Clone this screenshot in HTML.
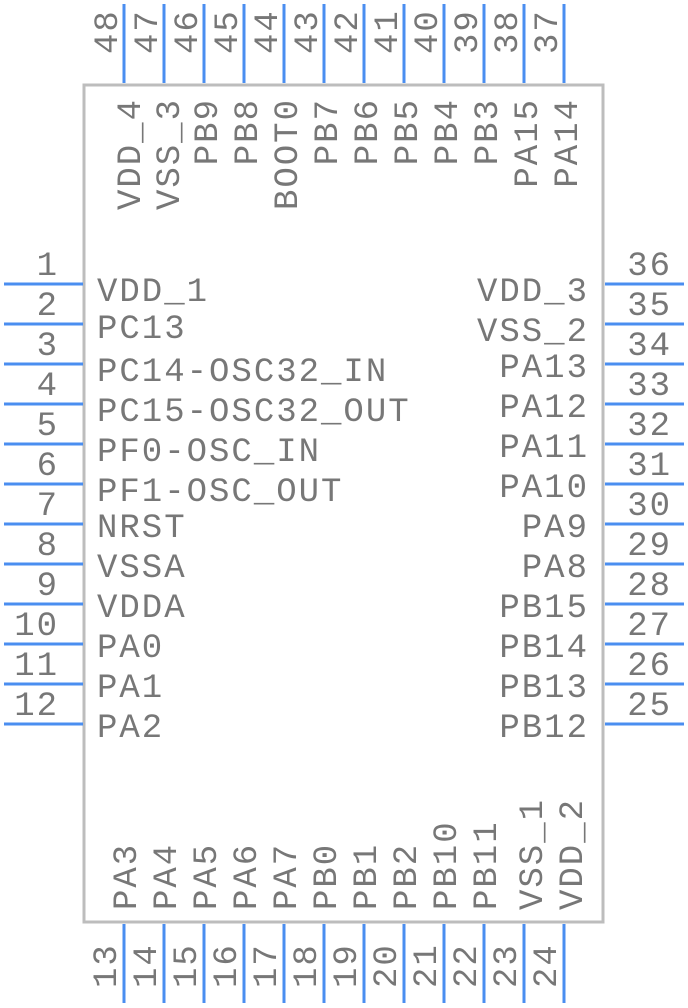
<!DOCTYPE html>
<html><head><meta charset="utf-8"><style>
html,body{margin:0;padding:0;background:#fff;}
svg{display:block}
text{font-family:"Liberation Mono",monospace;font-size:34px;fill:#777;letter-spacing:2px}
</style></head><body>
<svg width="688" height="1008" viewBox="0 0 688 1008" xmlns="http://www.w3.org/2000/svg">
<rect x="84" y="85" width="519" height="837" fill="none" stroke="#bdbdbd" stroke-width="3"/>
<g stroke="#4a8ef0" stroke-width="3">
<line x1="4" y1="284" x2="83" y2="284"/><line x1="4" y1="324" x2="83" y2="324"/>
<line x1="4" y1="364" x2="83" y2="364"/><line x1="4" y1="404" x2="83" y2="404"/>
<line x1="4" y1="444" x2="83" y2="444"/><line x1="4" y1="484" x2="83" y2="484"/>
<line x1="4" y1="524" x2="83" y2="524"/><line x1="4" y1="564" x2="83" y2="564"/>
<line x1="4" y1="604" x2="83" y2="604"/><line x1="4" y1="644" x2="83" y2="644"/>
<line x1="4" y1="684" x2="83" y2="684"/><line x1="4" y1="724" x2="83" y2="724"/>
<line x1="605" y1="284" x2="684" y2="284"/><line x1="605" y1="324" x2="684" y2="324"/>
<line x1="605" y1="364" x2="684" y2="364"/><line x1="605" y1="404" x2="684" y2="404"/>
<line x1="605" y1="444" x2="684" y2="444"/><line x1="605" y1="484" x2="684" y2="484"/>
<line x1="605" y1="524" x2="684" y2="524"/><line x1="605" y1="564" x2="684" y2="564"/>
<line x1="605" y1="604" x2="684" y2="604"/><line x1="605" y1="644" x2="684" y2="644"/>
<line x1="605" y1="684" x2="684" y2="684"/><line x1="605" y1="724" x2="684" y2="724"/>
<line x1="124" y1="4" x2="124" y2="83"/><line x1="164" y1="4" x2="164" y2="83"/>
<line x1="204" y1="4" x2="204" y2="83"/><line x1="244" y1="4" x2="244" y2="83"/>
<line x1="284" y1="4" x2="284" y2="83"/><line x1="324" y1="4" x2="324" y2="83"/>
<line x1="364" y1="4" x2="364" y2="83"/><line x1="404" y1="4" x2="404" y2="83"/>
<line x1="444" y1="4" x2="444" y2="83"/><line x1="484" y1="4" x2="484" y2="83"/>
<line x1="524" y1="4" x2="524" y2="83"/><line x1="564" y1="4" x2="564" y2="83"/>
<line x1="124" y1="924" x2="124" y2="1003"/><line x1="164" y1="924" x2="164" y2="1003"/>
<line x1="204" y1="924" x2="204" y2="1003"/><line x1="244" y1="924" x2="244" y2="1003"/>
<line x1="284" y1="924" x2="284" y2="1003"/><line x1="324" y1="924" x2="324" y2="1003"/>
<line x1="364" y1="924" x2="364" y2="1003"/><line x1="404" y1="924" x2="404" y2="1003"/>
<line x1="444" y1="924" x2="444" y2="1003"/><line x1="484" y1="924" x2="484" y2="1003"/>
<line x1="524" y1="924" x2="524" y2="1003"/><line x1="564" y1="924" x2="564" y2="1003"/>
</g>
<g text-anchor="end">
<text x="59" y="275">1</text><text x="59" y="315">2</text><text x="59" y="355">3</text>
<text x="59" y="395">4</text><text x="59" y="435">5</text><text x="59" y="475">6</text>
<text x="59" y="515">7</text><text x="59" y="555">8</text><text x="59" y="595">9</text>
<text x="59" y="635">10</text><text x="59" y="675">11</text><text x="59" y="715">12</text>
</g>
<g>
<text x="97" y="301">VDD_1</text><text x="97" y="338">PC13</text>
<text x="97" y="381">PC14-OSC32_IN</text><text x="97" y="421">PC15-OSC32_OUT</text>
<text x="97" y="461">PF0-OSC_IN</text><text x="97" y="501">PF1-OSC_OUT</text>
<text x="97" y="537">NRST</text><text x="97" y="577">VSSA</text>
<text x="97" y="617">VDDA</text><text x="97" y="657">PA0</text>
<text x="97" y="697">PA1</text><text x="97" y="737">PA2</text>
</g>
<g text-anchor="end">
<text x="672" y="275">36</text><text x="672" y="315">35</text><text x="672" y="355">34</text>
<text x="672" y="395">33</text><text x="672" y="435">32</text><text x="672" y="475">31</text>
<text x="672" y="515">30</text><text x="672" y="555">29</text><text x="672" y="595">28</text>
<text x="672" y="635">27</text><text x="672" y="675">26</text><text x="672" y="715">25</text>
</g>
<g text-anchor="end">
<text x="589" y="301">VDD_3</text><text x="589" y="341">VSS_2</text>
<text x="589" y="377">PA13</text><text x="589" y="417">PA12</text>
<text x="589" y="457">PA11</text><text x="589" y="497">PA10</text>
<text x="589" y="537">PA9</text><text x="589" y="577">PA8</text>
<text x="589" y="617">PB15</text><text x="589" y="657">PB14</text>
<text x="589" y="697">PB13</text><text x="589" y="737">PB12</text>
</g>
<g>
<text transform="translate(117,54) rotate(-90)">48</text>
<text transform="translate(157,54) rotate(-90)">47</text>
<text transform="translate(197,54) rotate(-90)">46</text>
<text transform="translate(237,54) rotate(-90)">45</text>
<text transform="translate(277,54) rotate(-90)">44</text>
<text transform="translate(317,54) rotate(-90)">43</text>
<text transform="translate(357,54) rotate(-90)">42</text>
<text transform="translate(397,54) rotate(-90)">41</text>
<text transform="translate(437,54) rotate(-90)">40</text>
<text transform="translate(477,54) rotate(-90)">39</text>
<text transform="translate(517,54) rotate(-90)">38</text>
<text transform="translate(557,54) rotate(-90)">37</text>
</g>
<g text-anchor="end">
<text transform="translate(140,98) rotate(-90)">VDD_4</text>
<text transform="translate(179,98) rotate(-90)">VSS_3</text>
<text transform="translate(217,98) rotate(-90)">PB9</text>
<text transform="translate(257,98) rotate(-90)">PB8</text>
<text transform="translate(297,98) rotate(-90)">BOOT0</text>
<text transform="translate(337,98) rotate(-90)">PB7</text>
<text transform="translate(377,98) rotate(-90)">PB6</text>
<text transform="translate(417,98) rotate(-90)">PB5</text>
<text transform="translate(457,98) rotate(-90)">PB4</text>
<text transform="translate(497,98) rotate(-90)">PB3</text>
<text transform="translate(537,98) rotate(-90)">PA15</text>
<text transform="translate(577,98) rotate(-90)">PA14</text>
</g>
<g>
<text transform="translate(136,910) rotate(-90)">PA3</text>
<text transform="translate(176,910) rotate(-90)">PA4</text>
<text transform="translate(216,910) rotate(-90)">PA5</text>
<text transform="translate(256,910) rotate(-90)">PA6</text>
<text transform="translate(296,910) rotate(-90)">PA7</text>
<text transform="translate(336,910) rotate(-90)">PB0</text>
<text transform="translate(376,910) rotate(-90)">PB1</text>
<text transform="translate(416,910) rotate(-90)">PB2</text>
<text transform="translate(456,910) rotate(-90)">PB10</text>
<text transform="translate(496,910) rotate(-90)">PB11</text>
<text transform="translate(542,910) rotate(-90)">VSS_1</text>
<text transform="translate(582,910) rotate(-90)">VDD_2</text>
</g>
<g>
<text transform="translate(116,988) rotate(-90)">13</text>
<text transform="translate(156,988) rotate(-90)">14</text>
<text transform="translate(196,988) rotate(-90)">15</text>
<text transform="translate(236,988) rotate(-90)">16</text>
<text transform="translate(276,988) rotate(-90)">17</text>
<text transform="translate(316,988) rotate(-90)">18</text>
<text transform="translate(356,988) rotate(-90)">19</text>
<text transform="translate(396,988) rotate(-90)">20</text>
<text transform="translate(436,988) rotate(-90)">21</text>
<text transform="translate(476,988) rotate(-90)">22</text>
<text transform="translate(516,988) rotate(-90)">23</text>
<text transform="translate(556,988) rotate(-90)">24</text>
</g>
</svg>
</body></html>
